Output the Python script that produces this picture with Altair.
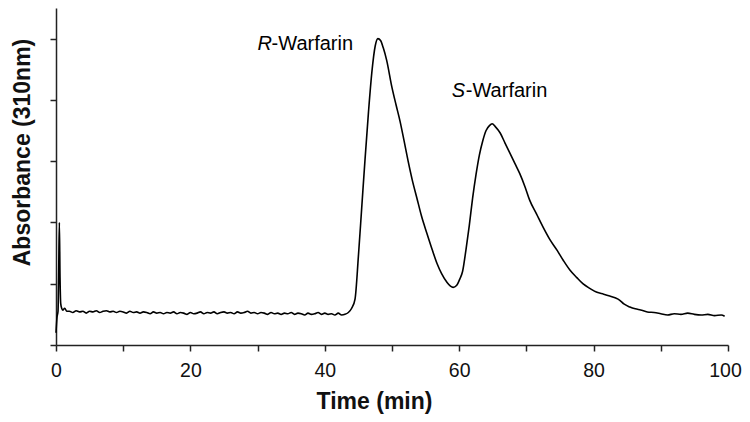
import altair as alt
import pandas as pd

# Chromatogram trace (time in min, absorbance in arbitrary units)
time_min = [
    0.0, 0.15, 0.3, 0.4, 0.5, 0.6, 0.7, 0.85, 1.0, 1.3, 1.6,
    2.0, 2.5, 3.0, 3.5, 4.0, 4.5, 5.0, 5.5, 6.0, 6.5, 7.0, 7.5, 8.0, 8.5, 9.0, 9.5,
    10.0, 10.5, 11.0, 11.5, 12.0, 12.5, 13.0, 13.5, 14.0, 14.5, 15.0, 15.5, 16.0, 16.5,
    17.0, 17.5, 18.0, 18.5, 19.0, 19.5, 20.0, 20.5, 21.0, 21.5, 22.0, 22.5, 23.0, 23.5,
    24.0, 24.5, 25.0, 25.5, 26.0, 26.5, 27.0, 27.5, 28.0, 28.5, 29.0, 29.5, 30.0, 30.5,
    31.0, 31.5, 32.0, 32.5, 33.0, 33.5, 34.0, 34.5, 35.0, 35.5, 36.0, 36.5, 37.0, 37.5,
    38.0, 38.5, 39.0, 39.5, 40.0, 40.5, 41.0, 41.5, 42.0, 42.5, 43.0, 43.5,
    44.0, 44.5, 45.0, 45.5, 46.0, 46.5, 47.0, 47.5, 47.9, 48.3, 48.7, 49.2, 50.0, 50.6,
    51.2, 51.8, 52.4, 53.0, 53.7, 54.4, 55.2, 56.0, 56.7, 57.4, 58.2, 58.7, 59.1, 59.6,
    60.1, 60.5, 61.0, 61.5, 62.0, 62.5, 63.0, 63.5, 64.0, 64.5, 64.9, 65.4, 66.1, 66.8,
    67.6, 68.3, 69.0, 69.8, 70.5, 71.5, 72.5, 73.5, 74.6, 75.5, 76.5, 77.5, 78.4, 79.5,
    80.5, 81.5, 82.4, 83.2, 83.9, 84.5, 85.4, 86.2, 87.0, 88.0, 89.0, 90.0, 91.0, 92.0,
    93.0, 94.0, 95.0, 96.0, 97.0, 98.0, 99.0, 99.5,
]
absorbance = [
    0.20, 0.45, 0.55, 1.20, 2.00, 1.10, 0.68, 0.60, 0.57, 0.60, 0.55,
    0.55, 0.53, 0.56, 0.54, 0.55, 0.52, 0.55, 0.54, 0.56, 0.53, 0.55, 0.56, 0.54, 0.55, 0.53, 0.55,
    0.54, 0.52, 0.55, 0.53, 0.54, 0.52, 0.54, 0.53, 0.51, 0.54, 0.52, 0.53, 0.51, 0.53,
    0.52, 0.54, 0.51, 0.53, 0.52, 0.50, 0.53, 0.51, 0.52, 0.54, 0.51, 0.53, 0.52, 0.54,
    0.51, 0.53, 0.54, 0.52, 0.53, 0.51, 0.54, 0.52, 0.53, 0.55, 0.52, 0.53, 0.51, 0.53,
    0.52, 0.50, 0.53, 0.51, 0.52, 0.50, 0.52, 0.51, 0.53, 0.50, 0.52, 0.51, 0.49, 0.52,
    0.50, 0.51, 0.53, 0.50, 0.52, 0.50, 0.51, 0.49, 0.52, 0.49, 0.50, 0.53,
    0.60, 0.75, 1.45, 2.25, 3.05, 3.80, 4.45, 4.88, 5.00, 4.97, 4.85, 4.65, 4.20, 3.92,
    3.65, 3.33, 3.00, 2.70, 2.40, 2.10, 1.82, 1.55, 1.33, 1.16, 1.02, 0.96, 0.94, 0.97,
    1.08, 1.20, 1.55, 1.95, 2.40, 2.78, 3.10, 3.33, 3.50, 3.58, 3.61, 3.56, 3.46, 3.30,
    3.12, 2.96, 2.80, 2.58, 2.36, 2.14, 1.92, 1.72, 1.54, 1.38, 1.22, 1.10, 1.00, 0.92,
    0.86, 0.83, 0.80, 0.77, 0.73, 0.67, 0.62, 0.59, 0.57, 0.54, 0.53, 0.51, 0.49, 0.51,
    0.50, 0.52, 0.50, 0.49, 0.50, 0.48, 0.49, 0.47,
]

# Peak labels (anchored in data coordinates)
label_letter = ["R", "S"]
label_rest = ["-Warfarin", "-Warfarin"]
label_time = [30.0, 58.9]
label_abs = [4.81, 4.05]

x_ticks = [0, 10, 20, 30, 40, 50, 60, 70, 80, 90, 100]
y_ticks = [0, 1, 2, 3, 4, 5]

trace = pd.DataFrame({"time": time_min, "abs": absorbance})
labels = pd.DataFrame({"letter": label_letter, "rest": label_rest,
                       "time": label_time, "abs": label_abs})

FONT = "Liberation Sans"

x_enc = alt.X("time:Q",
              scale=alt.Scale(domain=[0, 100], nice=False),
              axis=alt.Axis(values=x_ticks, title="Time (min)", grid=False,
                            labelExpr="datum.value % 20 == 0 ? datum.label : ''",
                            labelFlush=False, labelOverlap=False,
                            labelOffset=alt.condition("datum.value == 100", alt.value(-3), alt.value(0)),
                            labelPadding=10, titleY=56, titleX=318,
                            titleBaseline="middle"))
y_enc = alt.Y("abs:Q",
              scale=alt.Scale(domain=[0, 5.5], nice=False, zero=True),
              axis=alt.Axis(values=y_ticks, labels=False, grid=False,
                            title="Absorbance (310nm)", titleX=-34, titleY=144,
                            titleBaseline="middle", titleAlign="center"))

line = alt.Chart(trace).mark_line(color="black", strokeWidth=1.6, interpolate="monotone").encode(
    x=x_enc, y=y_enc
)

letters = alt.Chart(labels).mark_text(
    font=FONT, fontSize=20, fontStyle="italic", align="left", baseline="alphabetic", color="black"
).encode(x="time:Q", y="abs:Q", text="letter:N")

rest = alt.Chart(labels).mark_text(
    font=FONT, fontSize=20, align="left", baseline="alphabetic", color="black", dx=14
).encode(x="time:Q", y="abs:Q", text="rest:N")

chart = alt.layer(line, letters, rest).properties(
    width=672, height=337,
    autosize=alt.AutoSizeParams(type="none"),
    padding={"left": 48, "top": 0, "right": 14, "bottom": 69},
).configure_view(strokeWidth=0).configure_axis(
    domainColor="#222", domainWidth=1.5, tickColor="#222", tickWidth=1.5, tickSize=6,
    labelFont=FONT, labelFontSize=19.5, labelColor="#111",
    titleFont=FONT, titleFontSize=23, titleFontWeight="bold", titleColor="#111",
)

chart.save("out.html", embed_options={"renderer": "svg", "actions": False})
